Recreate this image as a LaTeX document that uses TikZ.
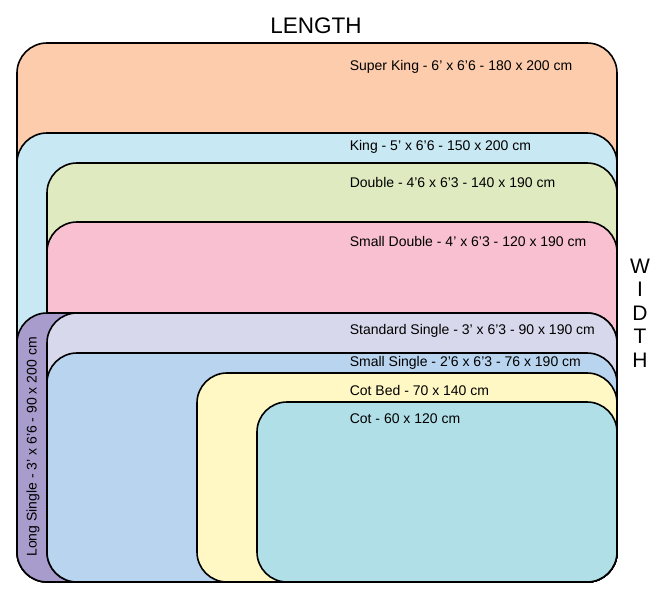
\documentclass[tikz,border=0pt]{standalone}
\usepackage{fontspec}
\setmainfont{Liberation Sans}
\usetikzlibrary{positioning}

\definecolor{superkingc}{HTML}{FCCCAD}
\definecolor{kingc}{HTML}{C8E8F3}
\definecolor{doublec}{HTML}{E0EAC0}
\definecolor{smalldoublec}{HTML}{F8C0D0}
\definecolor{longsinglec}{HTML}{A89CCC}
\definecolor{singlec}{HTML}{D8D8EC}
\definecolor{smallsinglec}{HTML}{B9D4EE}
\definecolor{cotbedc}{HTML}{FFF8C4}
\definecolor{cotc}{HTML}{B0DFE8}

\begin{document}
\begin{tikzpicture}[x=1pt,y=-1pt,line width=1.6pt,
  bed/.style={draw=black,rounded corners=30pt},
  size label/.style={anchor=west,inner sep=0pt,font=\fontsize{14}{16}\selectfont},
  axis label/.style={inner sep=0pt,font=\fontsize{22.5}{24}\selectfont}]

  \useasboundingbox (0,0) rectangle (662,595);

  % beds, largest first
  \draw[bed,fill=superkingc]   (17,43)  rectangle (617,582);
  \draw[bed,fill=kingc]        (17,133) rectangle (617,582);
  \draw[bed,fill=doublec]      (47,163) rectangle (617,582);
  \draw[bed,fill=smalldoublec] (47,222) rectangle (617,582);
  \draw[bed,fill=longsinglec]  (17,313) rectangle (617,582);
  \draw[bed,fill=singlec]      (47,313) rectangle (617,582);
  \draw[bed,fill=smallsinglec] (47,353) rectangle (617,582);
  \draw[bed,fill=cotbedc]      (197,373) rectangle (617,582);
  \draw[bed,fill=cotc]         (257,402) rectangle (617,582);

  % sizes
  \node[size label] (superking)   at (349,67)  {Super King - 6' x 6'6 - 180 x 200 cm};
  \node[size label] (king)        at (349,147) {King - 5' x 6'6 - 150 x 200 cm};
  \node[size label] (double)      at (349,182) {Double - 4'6 x 6'3 - 140 x 190 cm};
  \node[size label] (smalldouble) at (349,241) {Small Double - 4' x 6'3 - 120 x 190 cm};
  \node[size label] (single)      at (349,331) {Standard Single - 3' x 6'3 - 90 x 190 cm};
  \node[size label] (smallsingle) at (349,363) {Small Single - 2'6 x 6'3 - 76 x 190 cm};
  \node[size label] (cotbed)      at (349,390) {Cot Bed - 70 x 140 cm};
  \node[size label] (cot)         at (349,419) {Cot - 60 x 120 cm};
  \node[size label,anchor=center,rotate=90] (longsingle) at (33,447)
    {Long Single - 3' x 6'6 - 90 x 200 cm};

  % axes
  \node[axis label] (length) at (316,26) {LENGTH};
  \node[axis label,align=center,font=\fontsize{21}{23.5}\selectfont] (width) at (640,313)
    {W\\I\\D\\T\\H};
\end{tikzpicture}
\end{document}
